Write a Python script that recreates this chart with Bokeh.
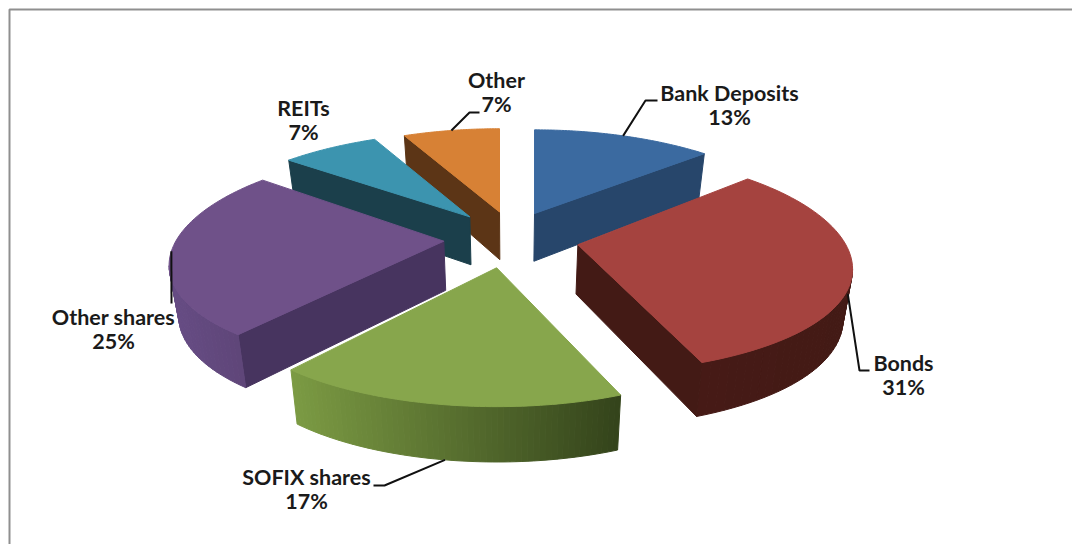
import numpy as np
from bokeh.plotting import figure
from bokeh.embed import file_html
from bokeh.resources import INLINE
from bokeh.core.properties import value

# ---- data ----
categories = ["Bank Deposits", "Bonds", "SOFIX shares", "Other shares", "REITs", "Other"]
shares = [13, 31, 17, 25, 7, 7]

# ---- styles ----
top_colors = ["#3b6aa0", "#a5433f", "#87a64c", "#6f5189", "#3c94af", "#d78135"]
side_colors = ["#27466b", "#431a15", "#3f5020", "#47345f", "#1b3f4b", "#5c3516"]
rim_left = ["#27466b", "#461a16", "#7b9a43", "#664c84", "#1b3f4b", "#5c3516"]
rim_right = ["#27466b", "#431a15", "#34441b", "#5f4679", "#1b3f4b", "#5c3516"]
draw_order = [5, 0, 4, 1, 3, 2]

# ---- projection of the tilted pie ----
CX, CY = 511.0, 238.0
FX, KY = 268.0, 105.0
AX, AY = 0.22, 0.165
EY = 0.27
explode_x = [58, 68, 95, 68, 68, 55]
SHRINK = 0.028

# ---- label layout ----
label_xy = [(729, 92.5), (903, 362.5), (306, 476.5), (113, 316.5), (303, 107.5), (496, 79.5)]
LINE_GAP = 24
elbows = [[(645, 100), (657, 100)], [(859, 370), (869, 370)], [(384, 485), (373, 485)],
          [(171, 303)], None, [(469, 112), (479, 112)]]
leader_depth = [0.0, 0.5, 1.0, 0.0, 0.0, 0.0]

total = sum(shares)
ends = np.cumsum(shares) / total * 360.0
starts = np.concatenate([[0.0], ends[:-1]])


def project(theta, bis, off, r=1.0):
    t, b = np.radians(theta), np.radians(bis)
    rim_x = r * np.sin(t)
    rim_y = -r * np.cos(t)
    sx = CX + off * np.sin(b) + FX * rim_x / (1 - AX * rim_y)
    Y = rim_y - EY * np.cos(b)
    sy = CY + KY * Y / (1 - AY * Y)
    return sx, sy, Y


def lower(sx, sy, Y):
    return CX + (sx - CX) * (1 - SHRINK), sy + 49 + 5 * Y


def mix(c1, c2, f):
    a = [int(c1[i:i + 2], 16) for i in (1, 3, 5)]
    b = [int(c2[i:i + 2], 16) for i in (1, 3, 5)]
    return "#%02x%02x%02x" % tuple(int(round(u + (v - u) * f)) for u, v in zip(a, b))


p = figure(width=1072, height=544, x_range=(0, 1072), y_range=(544, 0),
           output_backend="svg", toolbar_location=None, min_border=0,
           background_fill_color="white", border_fill_color="white")
p.axis.visible = False
p.grid.visible = False
p.outline_line_color = None

# frame
p.line([9, 9, 1072], [544, 9, 9], line_color="#8f8f8f", line_width=2)

for i in draw_order:
    s, e = starts[i], ends[i]
    bis = (s + e) / 2
    th = np.linspace(s, e, 61)
    ax, ay, aY = project(s, bis, explode_x[i], 0.0)
    ox, oy, oY = project(th, bis, explode_x[i])
    px = np.concatenate([[ax], ox])
    py = np.concatenate([[ay], oy])
    pY = np.concatenate([[aY], oY])
    n = len(px)
    area = 0.5 * np.sum(px * np.roll(py, -1) - np.roll(px, -1) * py)
    xs, ys, cols = [], [], []
    faces = []
    for k in range(n):
        j = (k + 1) % n
        dx = px[j] - px[k]
        ny = -dx if area > 0 else dx   # outward normal, screen y component
        if ny <= 0.01:
            continue
        bx0, by0 = lower(px[k], py[k], pY[k])
        bx1, by1 = lower(px[j], py[j], pY[j])
        if k == 0 or j == 0:
            col = side_colors[i]
        else:
            faces.append(0.5 * (px[k] + px[j]))
            col = None
        xs.append([px[k], px[j], bx1, bx0])
        ys.append([py[k], py[j], by1, by0])
        cols.append(col)
    if faces:
        lo, hi = min(faces), max(faces)
        for q, c in enumerate(cols):
            if c is None:
                f = (0.5 * (xs[q][0] + xs[q][1]) - lo) / max(hi - lo, 1)
                cols[q] = mix(rim_left[i], rim_right[i], f)
    if xs:
        p.patches(xs, ys, fill_color=cols, line_color=cols, line_width=1)
    p.patch(px, py, fill_color=top_colors[i], line_color=top_colors[i], line_width=1)

# leader lines: start at the slice's middle angle on the rim
for i, el in enumerate(elbows):
    if el is None:
        continue
    bis = (starts[i] + ends[i]) / 2
    sx, sy, Y = project(bis, bis, explode_x[i])
    bx, by = lower(sx, sy, Y)
    d = leader_depth[i]
    lx = [sx + (bx - sx) * d] + [q[0] for q in el]
    ly = [sy + (by - sy) * d] + [q[1] for q in el]
    p.line(lx, ly, line_color="#111111", line_width=2)

# labels
for i, name in enumerate(categories):
    x, y = label_xy[i]
    p.text([x], [y], text=[name], text_font=value("Lato"), text_font_style="bold",
           text_font_size="21.5px", text_color="#1a1a1a", text_align="center", text_baseline="middle")
    p.text([x], [y + LINE_GAP], text=["%d%%" % shares[i]], text_font=value("Lato"),
           text_font_style="bold", text_font_size="21.5px", text_color="#1a1a1a",
           text_align="center", text_baseline="middle")

open("out.html", "w").write(file_html(p, INLINE))
